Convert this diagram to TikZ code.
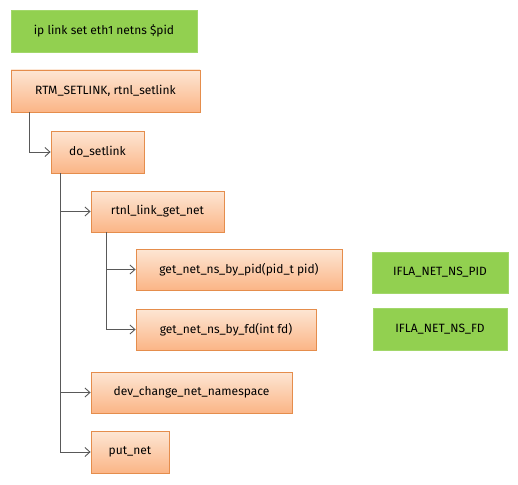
\documentclass[tikz,border=0pt]{standalone}
\usepackage{fontspec}
\setmainfont{Fira Sans}
\usetikzlibrary{arrows.meta}
\definecolor{gbox}{HTML}{92D050}
\definecolor{otop}{HTML}{FDE6D4}
\definecolor{obot}{HTML}{FBB586}
\definecolor{oline}{HTML}{E58D4C}
\definecolor{cline}{HTML}{595959}
\tikzset{
  greenbox/.style={fill=gbox, draw=gbox!85!white, line width=0.6pt, inner sep=0pt, font=\fontsize{12}{14}\selectfont},
  orangebox/.style={top color=otop, bottom color=obot, draw=oline, line width=0.8pt, inner sep=0pt, font=\fontsize{12}{14}\selectfont},
  conn/.style={draw=cline, line width=0.9pt, -{Straight Barb[length=5pt,width=9pt,line width=0.9pt]}}
}
\begin{document}
\begin{tikzpicture}[x=1pt,y=-1pt]
\useasboundingbox (0,0) rectangle (518,484);
\node[greenbox, minimum width=186pt, minimum height=42pt] (cmd) at (104,31) {ip link set eth1 netns \$pid};
\node[orangebox, minimum width=189pt, minimum height=42pt] (rtm) at (105.5,91) {RTM\_SETLINK, rtnl\_setlink};
\node[orangebox, minimum width=93pt, minimum height=42pt] (dos) at (97.5,152) {do\_setlink};
\node[orangebox, minimum width=133pt, minimum height=41pt] (rgn) at (157.5,211.5) {rtnl\_link\_get\_net};
\node[orangebox, minimum width=206pt, minimum height=41pt] (pid) at (239,269.5) {get\_net\_ns\_by\_pid(pid\_t pid)};
\node[orangebox, minimum width=180pt, minimum height=41pt] (fd) at (226,329.5) {get\_net\_ns\_by\_fd(int fd)};
\node[greenbox, minimum width=136pt, minimum height=41pt] (ipid) at (440,272.5) {IFLA\_NET\_NS\_PID};
\node[greenbox, minimum width=134pt, minimum height=42pt] (ifd) at (440,329) {IFLA\_NET\_NS\_FD};
\node[orangebox, minimum width=201pt, minimum height=41pt] (dev) at (191.5,392.5) {dev\_change\_net\_namespace};
\node[orangebox, minimum width=78pt, minimum height=42pt] (put) at (130,452) {put\_net};
\draw[conn] ([xshift=19pt]rtm.south west) |- (dos.west);
\draw[conn] ([xshift=10pt]dos.south west) |- (rgn.west);
\draw[conn] ([xshift=10pt]dos.south west) |- (dev.west);
\draw[conn] ([xshift=10pt]dos.south west) |- (put.west);
\draw[conn] ([xshift=16pt]rgn.south west) |- (pid.west);
\draw[conn] ([xshift=16pt]rgn.south west) |- (fd.west);
\end{tikzpicture}
\end{document}
